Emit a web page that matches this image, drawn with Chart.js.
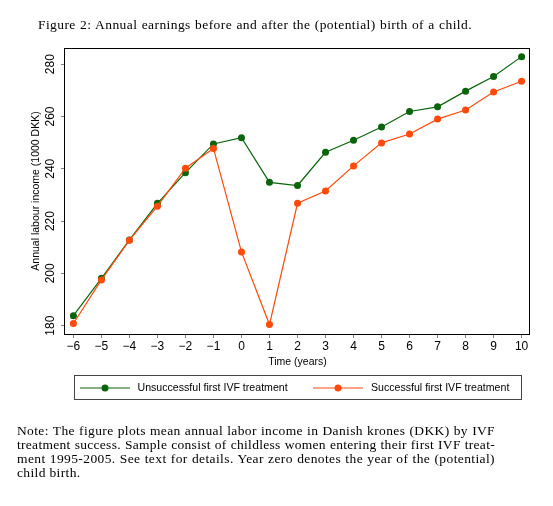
<!DOCTYPE html>
<html><head><meta charset="utf-8">
<script src="https://cdn.jsdelivr.net/npm/chart.js@4/dist/chart.umd.min.js"></script>
<style>
html,body{margin:0;padding:0;background:#fff;}
body{width:553px;height:506px;position:relative;overflow:hidden;}
#wrap{position:absolute;left:0;top:0;width:553px;height:506px;}
.tx{position:absolute;font-family:"Liberation Serif",serif;font-size:13.5px;line-height:14.3px;color:#000;z-index:2;letter-spacing:0.4px;}
.just{text-align:justify;text-align-last:justify;white-space:normal;}
</style></head><body>
<div id="title" class="tx just" data-w="434" style="left:38px;top:18.3px;width:434px;">Figure 2: Annual earnings before and after the (potential) birth of a child.</div>
<div id="wrap"><canvas id="c" width="553" height="506"></canvas></div>
<div class="tx" style="left:17px;top:423.6px;width:478px;">
<div class="just" data-w="478">Note: The figure plots mean annual labor income in Danish krones (DKK) by IVF</div>
<div class="just" data-w="478">treatment success. Sample consist of childless women entering their first IVF treat-</div>
<div class="just" data-w="478">ment 1995-2005. See text for details. Year zero denotes the year of the (potential)</div>
<div class="last">child birth.</div>
</div>
<script>
// ---- data ----
const years = [-6,-5,-4,-3,-2,-1,0,1,2,3,4,5,6,7,8,9,10];
const unsuccessful = [183.8,198.1,212.8,226.8,238.5,249.5,251.9,234.8,233.6,246.3,250.9,256.0,261.9,263.7,269.7,275.3,282.9];
const successful   = [180.8,197.5,212.7,225.7,240.2,247.8,208.2,180.4,226.8,231.5,241.1,249.9,253.3,259.0,262.5,269.4,273.5];
const seriesNames = ['Unsuccessful first IVF treatment','Successful first IVF treatment'];
const xTicks = [-6,-5,-4,-3,-2,-1,0,1,2,3,4,5,6,7,8,9,10];
const yTicks = [180,200,220,240,260,280];

// fit serif text lines: spread letters a little so the line is nearly its target width
function fitText() {
  const cv = document.createElement('canvas').getContext('2d');
  cv.font = '13.5px "Liberation Serif"';
  const spacings = [];
  document.querySelectorAll('.just').forEach(el => {
    const target = +el.dataset.w;
    const txt = el.textContent;
    const w = cv.measureText(txt).width;
    let ls = Math.max(0, Math.min(1.2, (target - w) * 0.85 / txt.length));
    el.style.letterSpacing = ls.toFixed(3) + 'px';
    let guard = 0;
    while (el.getBoundingClientRect().height > 16 && guard++ < 40) {
      ls = Math.max(0, ls - 0.05);
      el.style.letterSpacing = ls.toFixed(3) + 'px';
    }
    spacings.push(ls);
  });
  const noteLs = spacings.slice(1).reduce((a, b) => a + b, 0) / Math.max(1, spacings.length - 1);
  document.querySelectorAll('.last').forEach(el => el.style.letterSpacing = noteLs.toFixed(3) + 'px');
}
fitText();
if (document.fonts && document.fonts.ready) document.fonts.ready.then(fitText);

const GREEN = '#0a640a';
const ORANGE = '#ff4a0a';
const fmt = v => (v < 0 ? '\u2212' + Math.abs(v) : String(v));

const framePlugin = {
  id: 'frame',
  beforeDatasetsDraw(chart) {
    const a = chart.chartArea, ctx = chart.ctx;
    ctx.save();
    ctx.strokeStyle = '#000';
    ctx.lineWidth = 1;
    ctx.strokeRect(Math.round(a.left) - 0.5, Math.round(a.top) + 0.5, Math.round(a.right - a.left), Math.round(a.bottom - a.top));
    ctx.restore();
  }
};

const legendPlugin = {
  id: 'stataLegend',
  afterDraw(chart) {
    const ctx = chart.ctx;
    ctx.save();
    ctx.strokeStyle = '#444';
    ctx.lineWidth = 1;
    ctx.strokeRect(74.5, 375.5, 447, 24);
    const items = [{x0: 80, x1: 130, tx: 137.5}, {x0: 313, x1: 363, tx: 371}];
    const y = 388;
    chart.data.datasets.forEach((ds, i) => {
      const it = items[i];
      ctx.strokeStyle = ds.borderColor;
      ctx.lineWidth = 1.2;
      ctx.beginPath(); ctx.moveTo(it.x0, y); ctx.lineTo(it.x1, y); ctx.stroke();
      ctx.fillStyle = ds.backgroundColor;
      ctx.beginPath(); ctx.arc((it.x0 + it.x1) / 2, y, 3.5, 0, Math.PI * 2); ctx.fill();
      ctx.fillStyle = '#000';
      ctx.font = '10.6px "Liberation Sans", Arial, sans-serif';
      ctx.textBaseline = 'middle';
      ctx.textAlign = 'left';
      ctx.fillText(ds.label, it.tx, y);
    });
    ctx.restore();
  }
};

new Chart(document.getElementById('c'), {
  type: 'line',
  data: {
    datasets: [
      { label: seriesNames[0], data: years.map((x, i) => ({x, y: unsuccessful[i]})),
        borderColor: GREEN, backgroundColor: GREEN, pointBackgroundColor: GREEN,
        borderWidth: 1.2, pointRadius: 3.5, pointBorderWidth: 0, tension: 0, order: 1 },
      { label: seriesNames[1], data: years.map((x, i) => ({x, y: successful[i]})),
        borderColor: ORANGE, backgroundColor: ORANGE, pointBackgroundColor: ORANGE,
        borderWidth: 1.2, pointRadius: 3.5, pointBorderWidth: 0, tension: 0, order: 0 }
    ]
  },
  options: {
    responsive: false,
    animation: false,
    devicePixelRatio: 1,
    layout: { padding: { left: 24, right: 23, top: 48, bottom: 132 } },
    plugins: { legend: { display: false }, tooltip: { enabled: false } },
    scales: {
      x: {
        type: 'linear', min: -6.3, max: 10.3,
        afterBuildTicks: s => { s.ticks = xTicks.map(v => ({value: v})); },
        afterFit: s => { s.height = 40; },
        ticks: { font: { family: '"Liberation Sans", Arial, sans-serif', size: 12 }, color: '#000', padding: 1,
                 autoSkip: false, maxRotation: 0, callback: v => fmt(v) },
        grid: { drawOnChartArea: false, drawTicks: true, tickLength: 4, tickColor: '#808080', tickWidth: 1 },
        border: { display: false },
        title: { display: true, text: 'Time (years)', color: '#000',
                 font: { family: '"Liberation Sans", Arial, sans-serif', size: 10.5 }, padding: { top: 0, bottom: 6 } }
      },
      y: {
        type: 'linear', min: 176.8, max: 286.2,
        afterBuildTicks: s => { s.ticks = yTicks.map(v => ({value: v})); },
        afterFit: s => { s.width = 41; },
        ticks: { font: { family: '"Liberation Sans", Arial, sans-serif', size: 12 }, color: '#000', padding: 0,
                 minRotation: 90, maxRotation: 90, crossAlign: 'center', autoSkip: false, callback: v => fmt(v) },
        grid: { drawOnChartArea: false, drawTicks: true, tickLength: 4, tickColor: '#808080', tickWidth: 1 },
        border: { display: false },
        title: { display: true, text: 'Annual labour income (1000 DKK)', color: '#000',
                 font: { family: '"Liberation Sans", Arial, sans-serif', size: 10.5 }, padding: { top: 6, bottom: 0 } }
      }
    }
  },
  plugins: [framePlugin, legendPlugin]
});
</script>
</body></html>
